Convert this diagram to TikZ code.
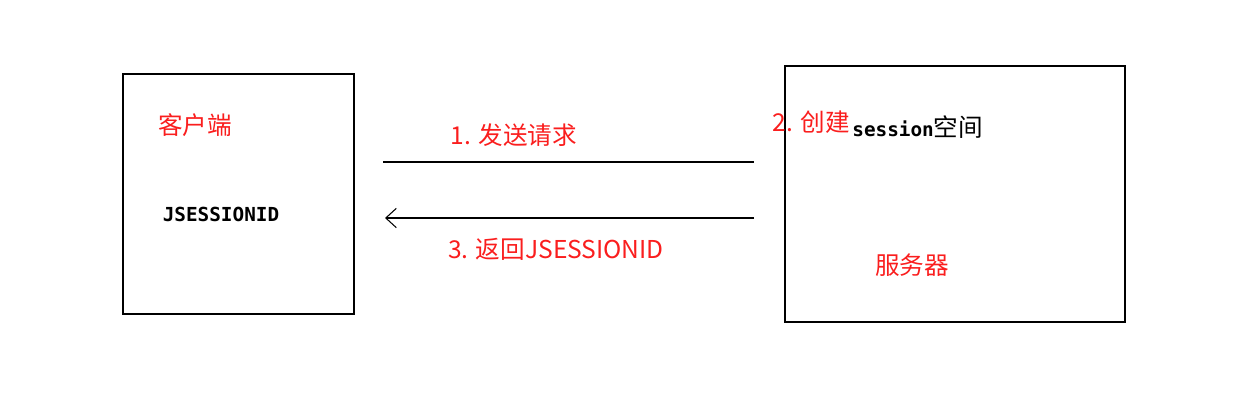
\documentclass[tikz,border=0pt]{standalone}
\usepackage{fontspec}
\newfontfamily\cjk{Noto Sans CJK SC}
\newfontfamily\monob{DejaVu Sans Mono}
\usetikzlibrary{arrows.meta}
\definecolor{labelred}{RGB}{250,30,30}

\begin{document}
\begin{tikzpicture}[x=0.02cm,y=-0.02cm,
  lbl/.style={text=labelred,font=\cjk\fontsize{14}{16}\selectfont,inner sep=0},
  mono/.style={font=\monob\bfseries\fontsize{11}{13}\selectfont,inner sep=0}]
\useasboundingbox (0,0) rectangle (1246,406);
%boxes
\draw[semithick] (123,74) rectangle (354,314);
\draw[semithick] (785,66) rectangle (1125,322);
%box texts
\node[lbl] (client) at (195,125) {客户端};
\node[mono] (jsid) at (221,214) {JSESSIONID};
\node[lbl] (server) at (912,265) {服务器};
\node[lbl,anchor=east] (create) at (850,122) {2. 创建};
\node[mono,anchor=west] (sess) at (852,127) {session{\cjk\mdseries\fontsize{14}{16}\selectfont 空间}};
%connectors
\coordinate (reqa) at (383,162); \coordinate (reqb) at (754,162);
\coordinate (resa) at (754,218); \coordinate (resb) at (385,218);
\draw[semithick] (reqa) -- (reqb);
\draw[semithick,-{Straight Barb[length=6pt,width=11pt]}] (resa) -- (resb);
\node[lbl] (req) at (514,135) {1. 发送请求};
\node[lbl] (res) at (556,249) {3. 返回JSESSIONID};
\end{tikzpicture}
\end{document}
